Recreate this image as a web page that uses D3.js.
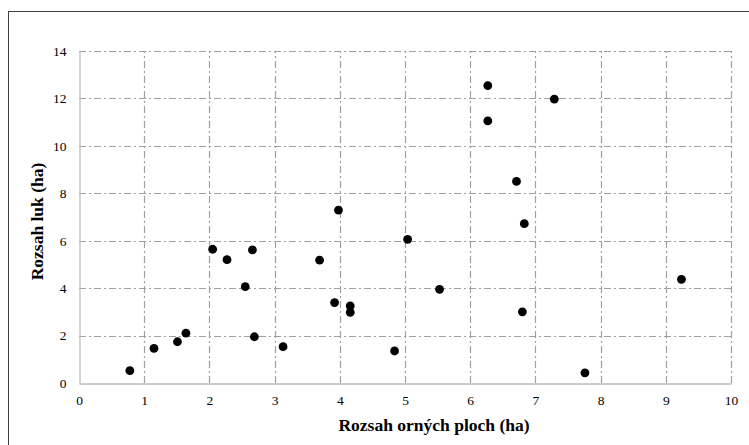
<!DOCTYPE html>
<html>
<head>
<meta charset="utf-8">
<script src="https://cdn.jsdelivr.net/npm/d3@7"></script>
<style>
  html, body { margin: 0; padding: 0; background: #fff; }
  svg { display: block; }
</style>
</head>
<body>
<svg id="chart" width="749" height="445"></svg>
<script>
// Rozsah orných ploch (ha) vs. rozsah luk (ha)
const arableHa = [0.78, 1.15, 1.51, 1.64, 2.05, 2.27, 2.66, 2.55, 2.69, 3.13,
                  3.98, 3.69, 5.04, 3.92, 4.16, 4.16, 5.53, 4.84, 6.83, 6.80,
                  6.71, 9.24, 7.76, 7.29, 6.27, 6.27];
const meadowHa = [0.52, 1.46, 1.74, 2.10, 5.64, 5.20, 5.61, 4.06, 1.95, 1.53,
                  7.29, 5.18, 6.06, 3.39, 3.25, 2.98, 3.95, 1.35, 6.72, 3.00,
                  8.50, 4.37, 0.43, 11.97, 12.54, 11.05];
const xTicks = [0, 1, 2, 3, 4, 5, 6, 7, 8, 9, 10];
const yTicks = [0, 2, 4, 6, 8, 10, 12, 14];
const xTitle = "Rozsah orných ploch (ha)";
const yTitle = "Rozsah luk (ha)";

(function () {
  const serif = "'Liberation Serif', 'Times New Roman', Times, 'DejaVu Serif', serif";
  const svg = d3.select("#chart");
  const plotLeft = 79, plotRight = 731, plotTop = 51, plotBottom = 383;

  const x = d3.scaleLinear().domain([0, 10]).range([plotLeft, plotRight]);
  const y = d3.scaleLinear().domain([0, 14]).range([plotBottom, plotTop]);

  // outer frame
  svg.append("rect")
    .attr("x", 8.5).attr("y", 11.5)
    .attr("width", 760).attr("height", 460)
    .attr("fill", "none").attr("stroke", "#404040").attr("stroke-width", 1);

  // dash-dot gridlines
  const grid = svg.append("g")
    .attr("stroke", "#a0a0a0").attr("stroke-width", 1.2)
    .attr("stroke-dasharray", "7,3,2,3");
  grid.selectAll("line.h").data(yTicks.filter(d => d > 0)).join("line")
    .attr("class", "h")
    .attr("x1", plotLeft).attr("x2", plotRight)
    .attr("y1", d => Math.round(y(d)) + 0.5).attr("y2", d => Math.round(y(d)) + 0.5);
  grid.selectAll("line.v").data(xTicks.filter(d => d > 0)).join("line")
    .attr("class", "v")
    .attr("y1", plotBottom).attr("y2", plotTop)
    .attr("x1", d => Math.round(x(d)) + 0.5).attr("x2", d => Math.round(x(d)) + 0.5);

  // axes
  const xAxis = svg.append("g")
    .attr("transform", `translate(0,${plotBottom + 0.5})`)
    .call(d3.axisBottom(x).tickValues(xTicks).tickSize(0).tickPadding(12).tickFormat(d3.format("d")))
    .attr("font-family", serif).attr("font-size", 13.5);
  xAxis.select(".domain").attr("stroke", "#bdbdbd").attr("stroke-width", 1.3);
  xAxis.selectAll("text").attr("fill", "#000");

  const yAxis = svg.append("g")
    .attr("transform", `translate(${plotLeft + 0.5},0)`)
    .call(d3.axisLeft(y).tickValues(yTicks).tickSize(0).tickPadding(13).tickFormat(d3.format("d")))
    .attr("font-family", serif).attr("font-size", 13.5);
  yAxis.select(".domain").attr("stroke", "#bdbdbd").attr("stroke-width", 1.3);
  yAxis.selectAll("text").attr("fill", "#000");

  // points
  svg.append("g").selectAll("circle")
    .data(arableHa.map((v, i) => [v, meadowHa[i]]))
    .join("circle")
    .attr("cx", d => x(d[0]))
    .attr("cy", d => y(d[1]))
    .attr("r", 4.4)
    .attr("fill", "#000");

  // axis titles
  svg.append("text")
    .attr("x", 434).attr("y", 431)
    .attr("text-anchor", "middle")
    .attr("font-family", serif)
    .attr("font-size", 17.5).attr("font-weight", "bold")
    .text(xTitle);

  svg.append("text")
    .attr("transform", "translate(43,221.5) rotate(-90)")
    .attr("text-anchor", "middle")
    .attr("font-family", serif)
    .attr("font-size", 17.5).attr("font-weight", "bold")
    .text(yTitle);
})();
</script>
</body>
</html>
